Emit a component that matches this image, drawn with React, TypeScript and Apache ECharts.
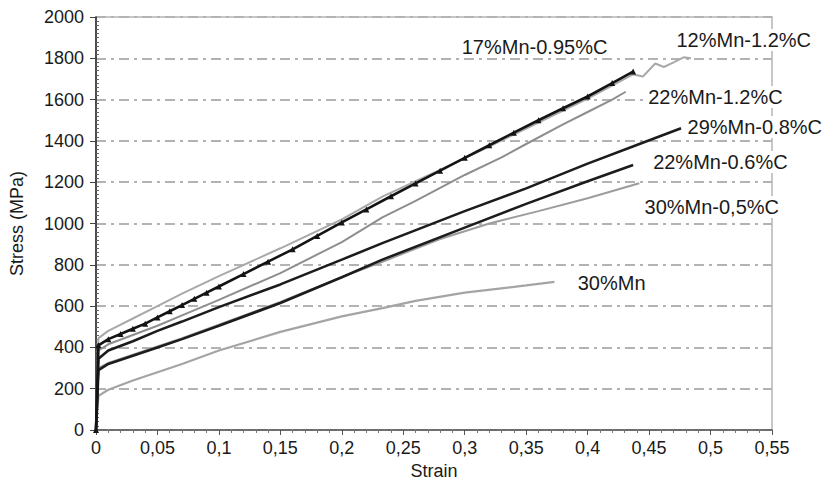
import React, { useEffect, useRef } from "react";
import * as echarts from "echarts";

// ---- data ----
const xTickLabels = ["0", "0,05", "0,1", "0,15", "0,2", "0,25", "0,3", "0,35", "0,4", "0,45", "0,5", "0,55"];
const yTickLabels = ["0", "200", "400", "600", "800", "1000", "1200", "1400", "1600", "1800", "2000"];

const strain12 = [0, 0.002, 0.01, 0.03, 0.05, 0.07, 0.1, 0.15, 0.2, 0.233, 0.3, 0.35, 0.4, 0.437, 0.445, 0.455, 0.462, 0.47, 0.478, 0.484];
const stress12 = [0, 445, 480, 540, 600, 660, 745, 880, 1020, 1130, 1315, 1460, 1605, 1722, 1712, 1775, 1758, 1780, 1805, 1800];

const strain17 = [0, 0.002, 0.01, 0.02, 0.03, 0.04, 0.05, 0.06, 0.07, 0.08, 0.09, 0.1, 0.12, 0.14, 0.16, 0.18, 0.2, 0.22, 0.24, 0.26, 0.28, 0.3, 0.32, 0.34, 0.36, 0.38, 0.4, 0.42, 0.437];
const stress17 = [0, 410, 440, 465, 490, 515, 545, 575, 605, 635, 665, 695, 755, 815, 875, 940, 1005, 1068, 1132, 1194, 1256, 1318, 1379, 1440, 1500, 1558, 1615, 1680, 1736];

const strain22a = [0, 0.002, 0.01, 0.03, 0.05, 0.07, 0.1, 0.15, 0.2, 0.233, 0.26, 0.3, 0.33, 0.35, 0.38, 0.4, 0.42, 0.431];
const stress22a = [0, 385, 415, 460, 505, 555, 630, 760, 910, 1030, 1110, 1235, 1320, 1385, 1480, 1540, 1600, 1638];

const strain29 = [0, 0.002, 0.01, 0.03, 0.05, 0.07, 0.1, 0.15, 0.2, 0.233, 0.3, 0.35, 0.4, 0.44, 0.476];
const stress29 = [0, 345, 385, 430, 480, 525, 595, 705, 825, 905, 1060, 1170, 1290, 1380, 1461];

const strain22b = [0, 0.002, 0.01, 0.03, 0.05, 0.07, 0.1, 0.15, 0.2, 0.233, 0.3, 0.35, 0.4, 0.437];
const stress22b = [0, 290, 320, 360, 400, 440, 505, 615, 740, 825, 980, 1095, 1205, 1283];

const strain30a = [0, 0.002, 0.01, 0.03, 0.05, 0.07, 0.1, 0.15, 0.2, 0.233, 0.28, 0.32, 0.36, 0.4, 0.442];
const stress30a = [0, 300, 325, 365, 405, 445, 510, 620, 740, 815, 925, 1000, 1060, 1122, 1195];

const strain30 = [0, 0.002, 0.01, 0.03, 0.05, 0.07, 0.1, 0.15, 0.2, 0.233, 0.26, 0.3, 0.35, 0.373];
const stress30 = [0, 165, 195, 240, 280, 320, 385, 475, 550, 590, 625, 665, 700, 717];

const seriesNames = ["12%Mn-1.2%C", "22%Mn-1.2%C", "30%Mn-0,5%C", "30%Mn", "29%Mn-0.8%C", "22%Mn-0.6%C", "17%Mn-0.95%C"];
const labelStrain = [0.527, 0.504, 0.501, 0.4195, 0.536, 0.508, 0.3568];
const labelStress = [1889, 1613, 1080, 712, 1467, 1298, 1855];

const FONT = "'Liberation Sans', Arial, sans-serif";

function pairs(xs: number[], ys: number[]) {
  return xs.map((x, i) => [x, ys[i]]);
}

export default function App() {
  const ref = useRef<HTMLDivElement>(null);
  useEffect(() => {
    if (!ref.current) return;
    const chart = echarts.init(ref.current, null, { renderer: "svg" });
    const curves = [
      { d: pairs(strain12, stress12), color: "#a9a9a9", w: 2 },
      { d: pairs(strain22a, stress22a), color: "#8e8e8e", w: 2 },
      { d: pairs(strain30a, stress30a), color: "#9c9c9c", w: 2 },
      { d: pairs(strain30, stress30), color: "#a4a4a4", w: 2.2 },
      { d: pairs(strain29, stress29), color: "#1c1c1c", w: 2.6 },
      { d: pairs(strain22b, stress22b), color: "#1c1c1c", w: 2.6 },
      { d: pairs(strain17, stress17), color: "#141414", w: 2.6 },
    ];
    const series: any[] = curves.map((c, i) => ({
      type: "line",
      name: seriesNames[i],
      data: c.d,
      smooth: false,
      showSymbol: i === 6,
      symbol: "triangle",
      symbolSize: 6,
      itemStyle: { color: c.color },
      lineStyle: { color: c.color, width: c.w },
      z: i === 6 ? 4 : 3,
      markPoint: {
        symbol: "rect",
        symbolSize: 0,
        silent: true,
        z: 10,
        label: {
          show: true,
          position: "inside",
          formatter: seriesNames[i],
          color: "#1a1a1a",
          fontFamily: FONT,
          fontSize: 20,
          backgroundColor: "#ffffff",
          padding: [1, 2],
        },
        data: [{ coord: [labelStrain[i], labelStress[i]], name: seriesNames[i] }],
      },
    }));

    chart.setOption({
      animation: false,
      backgroundColor: "#ffffff",
      grid: {
        left: 92,
        right: 53,
        top: 17,
        bottom: 58,
        show: true,
        borderColor: "#b5b5b5",
        borderWidth: 1.5,
        backgroundColor: "transparent",
      },
      xAxis: [
        {
          type: "value",
          min: 0,
          max: 0.55,
          interval: 0.05,
          name: "Strain",
          nameLocation: "middle",
          nameGap: 31,
          nameTextStyle: { fontFamily: FONT, fontSize: 18, color: "#1a1a1a" },
          axisLine: { show: true, lineStyle: { color: "#555", width: 1.5 } },
          axisTick: { show: true, length: 5, lineStyle: { color: "#555" } },
          minorTick: { show: true, splitNumber: 5, length: 3, lineStyle: { color: "#777" } },
          splitLine: { show: false },
          axisLabel: {
            fontFamily: FONT,
            fontSize: 18,
            color: "#1a1a1a",
            margin: 9,
            formatter: (v: number) => xTickLabels[Math.round(v / 0.05)] ?? "",
          },
        },
      ],
      yAxis: [
        {
          type: "value",
          min: 0,
          max: 2000,
          interval: 200,
          name: "Stress (MPa)",
          nameLocation: "middle",
          nameGap: 70,
          nameTextStyle: { fontFamily: FONT, fontSize: 18, color: "#1a1a1a" },
          axisLine: { show: true, lineStyle: { color: "#222", width: 1.5 } },
          axisTick: { show: true, length: 6, lineStyle: { color: "#444" } },
          splitLine: {
            show: true,
            lineStyle: { color: "#b3b3b3", width: 2, type: [10, 5, 3, 5] },
          },
          axisLabel: {
            fontFamily: FONT,
            fontSize: 18,
            color: "#1a1a1a",
            margin: 12,
            formatter: (v: number) => yTickLabels[Math.round(v / 200)] ?? "",
          },
        },
        {
          type: "value",
          min: 0,
          max: 2000,
          interval: 200,
          position: "left",
          axisLine: { show: false },
          axisTick: { show: false, inside: true },
          minorTick: { show: true, splitNumber: 10, length: 3, lineStyle: { color: "#666" } },
          axisLabel: { show: false },
          splitLine: { show: false },
        },
      ],
      series,
    });
    return () => chart.dispose();
  }, []);
  return <div ref={ref} style={{ width: 825, height: 488, position: "absolute", left: 0, top: 0 }} />;
}
